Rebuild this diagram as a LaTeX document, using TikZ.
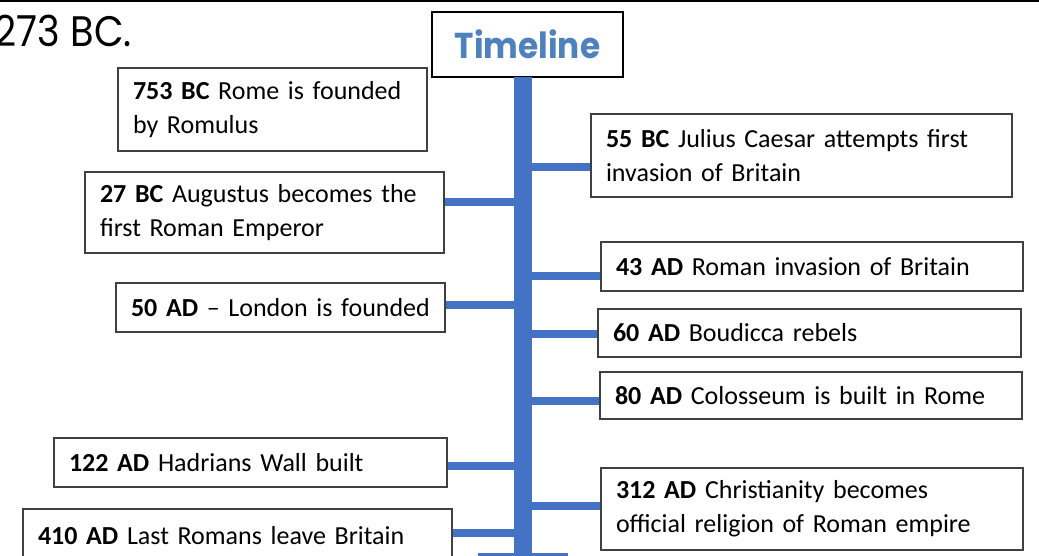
\documentclass[tikz,border=0pt]{standalone}
\usepackage{fontspec}
\usepackage{graphicx}
\setmainfont{Carlito}
\newfontfamily\comic{Poppins}
\definecolor{barblue}{HTML}{4472C4}
\definecolor{tlblue}{HTML}{4F81BD}
\definecolor{boxline}{HTML}{404040}
\tikzset{
  evbox/.style={draw=boxline, line width=1.1pt, fill=white, rectangle, inner xsep=11.25pt, inner ysep=0pt,
     align=left, font=\fontsize{19.5pt}{25.5pt}\selectfont},
  conn/.style={draw=barblue, line width=6pt},
  barpart/.style={fill=barblue, inner sep=0pt, rectangle},
}
\newcommand\evbox[6]{%
  \pgfmathsetlengthmacro\bw{(#4-#2)*0.75pt}%
  \pgfmathsetlengthmacro\bh{(#5-#3)*0.75pt}%
  \pgfmathsetlengthmacro\tw{(#4-#2-30)*0.75pt}%
  \node[evbox, minimum width=\bw, minimum height=\bh, text width=\tw] (#1) at ({(#2+#4)/2},{(#3+#5)/2}) {#6};}
\begin{document}
\begin{tikzpicture}[x=0.75pt,y=-0.75pt]
\useasboundingbox (0,0) rectangle (1039,556);
\fill[white] (0,0) rectangle (1039,556);
% top rule
\draw[line width=2pt] (0,1) -- (1039,1);
% heading fragment
\node[anchor=base east, inner sep=0pt, font=\comic\fontsize{32pt}{36pt}\selectfont] (frag) at (132,47) {\scalebox{0.9}[1]{273 BC.}};
% connector heights
\coordinate (y55) at (0,167);
\coordinate (y27) at (0,202);
\coordinate (y43) at (0,276);
\coordinate (y50) at (0,305);
\coordinate (y60) at (0,334);
\coordinate (y80) at (0,401);
\coordinate (y122) at (0,466);
\coordinate (y312) at (0,506);
\coordinate (y410) at (0,533);
% bar
\pgfmathsetlengthmacro\barw{18*0.75pt}
\pgfmathsetlengthmacro\barh{(560-77)*0.75pt}
\node[barpart, minimum width=\barw, minimum height=\barh] (bar) at (523,{(77+560)/2}) {};
\pgfmathsetlengthmacro\basew{90*0.75pt}
\pgfmathsetlengthmacro\baseh{10*0.75pt}
\node[barpart, minimum width=\basew, minimum height=\baseh] (base) at (523,558) {};
% boxes
\evbox{b753}{118}{68}{427}{151}{\textbf{753 BC} Rome is founded\\by Romulus}
\evbox{b55}{591}{114}{1012}{197}{\textbf{55 BC} Julius Caesar attempts first\\invasion of Britain}
\evbox{b27}{85}{172}{444}{253}{\textbf{27 BC} Augustus becomes the\\first Roman Emperor}
\evbox{b43}{601}{242}{1023}{291}{\textbf{43 AD} Roman invasion of Britain}
\evbox{b50}{116}{283}{445}{332}{\textbf{50 AD} -- London is founded}
\evbox{b60}{598}{309}{1021}{357}{\textbf{60 AD} Boudicca rebels}
\evbox{b80}{600}{372}{1022}{419}{\textbf{80 AD} Colosseum is built in Rome}
\evbox{b122}{54}{438}{447}{487}{\textbf{122 AD} Hadrians Wall built}
\evbox{b312}{601}{468}{1023}{550}{\textbf{312 AD} Christianity becomes\\official religion of Roman empire}
\evbox{b410}{23}{509}{452}{563}{\textbf{410 AD} Last Romans leave Britain}
% timeline title
\pgfmathsetlengthmacro\tlw{(623-432)*0.75pt}
\pgfmathsetlengthmacro\tlh{(77-12)*0.75pt}
\node[draw=black, line width=1.1pt, fill=white, minimum width=\tlw, minimum height=\tlh, inner sep=0pt,
      font=\comic\bfseries\fontsize{27pt}{30pt}\selectfont, text=tlblue] (title) at ({(432+623)/2},{(12+77)/2}) {\scalebox{0.91}[1]{Timeline}};
% connectors
\draw[conn] (b55.west |- y55) -- (bar.center |- y55);
\draw[conn] (b27.east |- y27) -- (bar.center |- y27);
\draw[conn] (b43.west |- y43) -- (bar.center |- y43);
\draw[conn] (b50.east |- y50) -- (bar.center |- y50);
\draw[conn] (b60.west |- y60) -- (bar.center |- y60);
\draw[conn] (b80.west |- y80) -- (bar.center |- y80);
\draw[conn] (b122.east |- y122) -- (bar.center |- y122);
\draw[conn] (b312.west |- y312) -- (bar.center |- y312);
\draw[conn] (b410.east |- y410) -- (bar.center |- y410);
% redraw bar over connector ends
\fill[barblue] (bar.north west) rectangle (bar.south east);
\end{tikzpicture}
\end{document}
